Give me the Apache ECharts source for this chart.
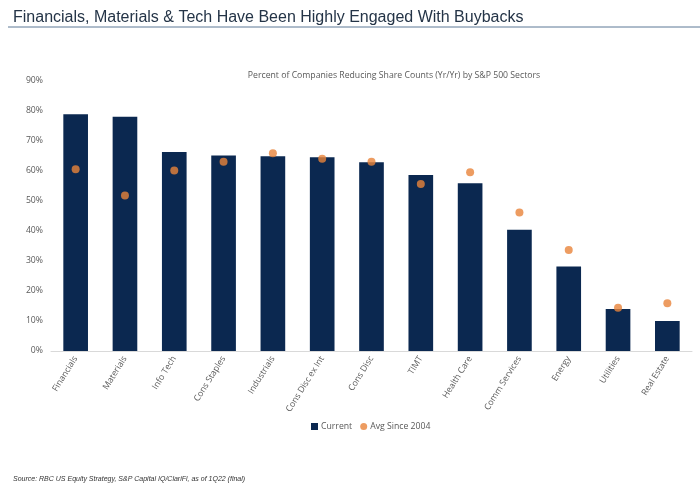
<!DOCTYPE html>
<html>
<head>
<meta charset="utf-8">
<script src="https://cdn.jsdelivr.net/npm/echarts@6/dist/echarts.min.js"></script>
<style>
  html, body { margin: 0; padding: 0; background: #fff; }
  #chart { width: 700px; height: 483px; }
</style>
</head>
<body>
<div id="chart"></div>
<script>
// sectors and values (percent)
var sectors = ['Financials', 'Materials', 'Info Tech', 'Cons Staples', 'Industrials', 'Cons Disc ex Int',
  'Cons Disc', 'TIMT', 'Health Care', 'Comm Services', 'Energy', 'Utilities', 'Real Estate'];
var current = [78.9, 78.1, 66.3, 65.2, 64.9, 64.6, 62.9, 58.7, 55.9, 40.4, 28.2, 14.0, 10.0];
var avgSince2004 = [60.6, 51.8, 60.2, 63.1, 65.9, 64.1, 63.1, 55.7, 59.6, 46.2, 33.7, 14.4, 15.9];

var chart = echarts.init(document.getElementById('chart'));

var option = {
  animation: false,
  textStyle: { fontFamily: 'Open Sans' },
  title: [{
    text: 'Financials, Materials & Tech Have Been Highly Engaged With Buybacks',
    left: 8, top: 5,
    textStyle: { fontFamily: 'Liberation Sans', fontSize: 16, fontWeight: 'normal', color: '#243447' }
  }, {
    text: 'Percent of Companies Reducing Share Counts (Yr/Yr) by S&P 500 Sectors',
    left: 389, top: 66, textAlign: 'center',
    textStyle: { fontSize: 8.7, fontWeight: 'normal', color: '#595959' }
  }, {
    text: 'Source: RBC US Equity Strategy, S&P Capital IQ/ClariFi, as of 1Q22 (final)',
    left: 8, top: 471,
    textStyle: { fontFamily: 'Liberation Sans', fontSize: 7, fontStyle: 'italic', fontWeight: 'normal', color: '#333' }
  }],
  graphic: [{
    type: 'line',
    shape: { x1: 8, y1: 27, x2: 700, y2: 27 },
    style: { stroke: '#5d7896', lineWidth: 1 }
  }],
  legend: {
    top: 417, left: 306,
    itemWidth: 7, itemHeight: 7, itemGap: 8,
    textStyle: { fontSize: 8.7, color: '#595959', padding: [0, 0, 0, -2] },
    data: [{ name: 'Current', icon: 'rect' }, { name: 'Avg Since 2004', icon: 'circle' }]
  },
  grid: { left: 51, right: 8, top: 81, bottom: 132 },
  xAxis: {
    type: 'category',
    data: sectors,
    axisLine: { lineStyle: { color: '#d9d9d9' } },
    axisTick: { show: false },
    axisLabel: { rotate: 58, fontSize: 8.7, color: '#595959', interval: 0, margin: 6 }
  },
  yAxis: {
    type: 'value',
    min: 0, max: 90, interval: 10,
    axisLine: { show: false },
    axisTick: { show: false },
    splitLine: { show: false },
    axisLabel: { formatter: '{value}%', fontSize: 8.7, color: '#595959', margin: 8 }
  },
  series: [{
    name: 'Current',
    type: 'bar',
    data: current,
    barWidth: '50%',
    itemStyle: { color: '#0b2850' }
  }, {
    name: 'Avg Since 2004',
    type: 'scatter',
    data: avgSince2004,
    symbolSize: 8,
    itemStyle: { color: '#e8833a' }
  }]
};

chart.setOption(option);
</script>
</body>
</html>
